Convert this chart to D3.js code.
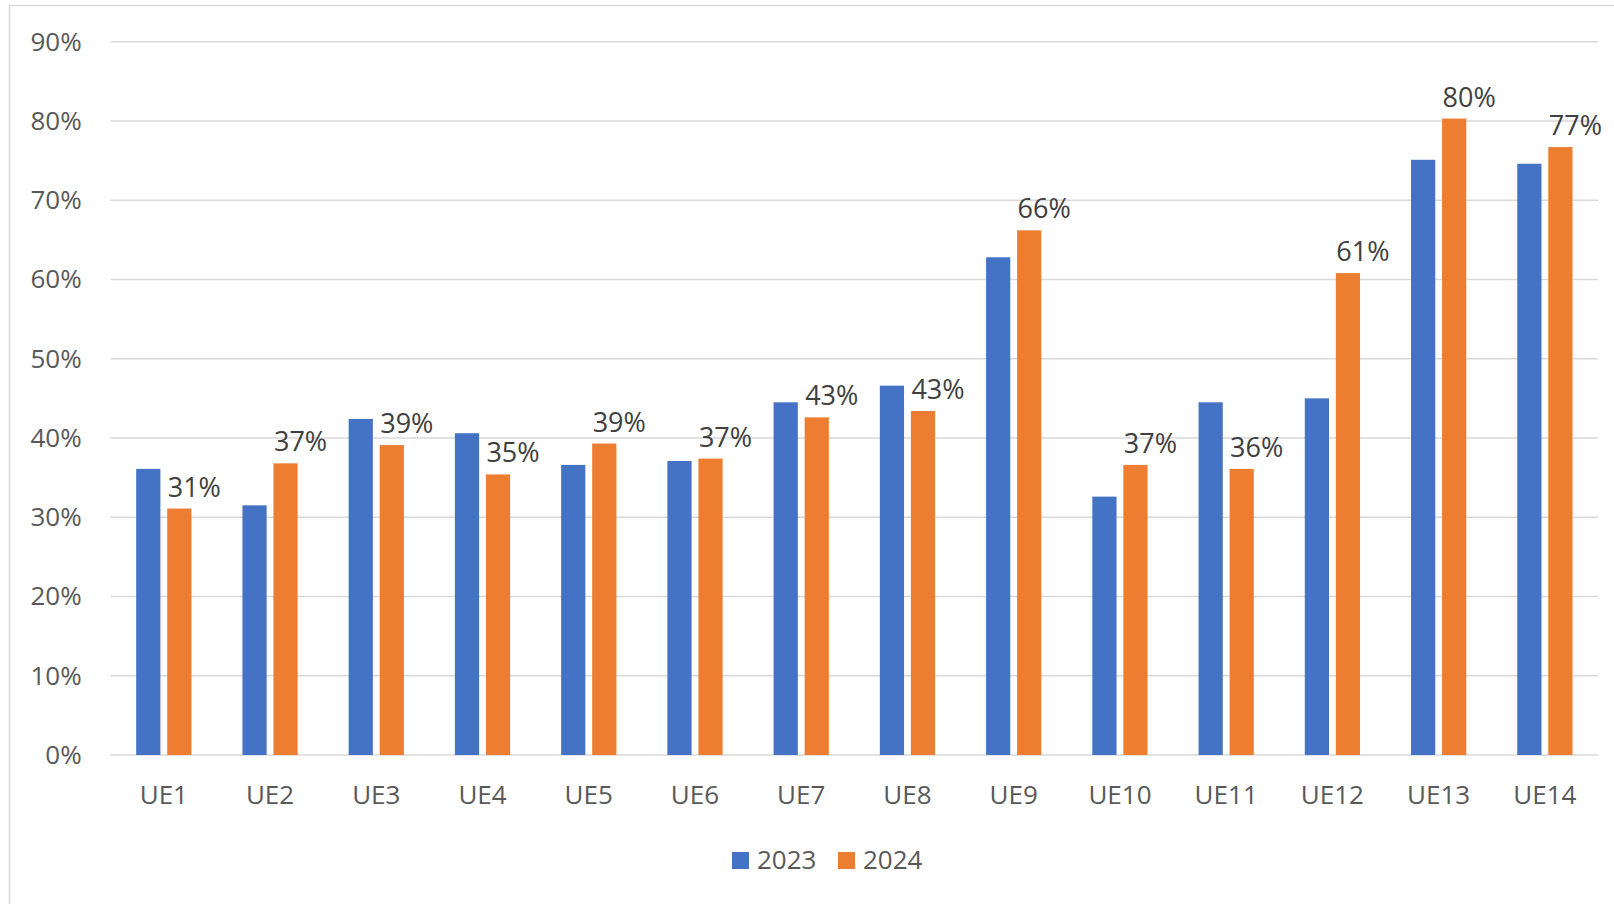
<!DOCTYPE html>
<html>
<head>
<meta charset="utf-8">
<script src="https://cdn.jsdelivr.net/npm/d3@7"></script>
<style>
  html, body { margin: 0; padding: 0; background: #ffffff; }
  svg { display: block; }
</style>
</head>
<body>
<div id="chart"></div>
<script>
// Categories and series values (share, 0..1)
const categories = ['UE1', 'UE2', 'UE3', 'UE4', 'UE5', 'UE6', 'UE7', 'UE8', 'UE9', 'UE10', 'UE11', 'UE12', 'UE13', 'UE14'];
const seriesNames = ['2023', '2024'];
const values2023 = [0.361, 0.315, 0.424, 0.406, 0.366, 0.371, 0.445, 0.466, 0.628, 0.326, 0.445, 0.450, 0.751, 0.746];
const values2024 = [0.311, 0.368, 0.391, 0.354, 0.393, 0.374, 0.426, 0.434, 0.662, 0.366, 0.361, 0.608, 0.803, 0.767];
const yTicks = [0, 0.1, 0.2, 0.3, 0.4, 0.5, 0.6, 0.7, 0.8, 0.9];

const colors = { '2023': '#4472C4', '2024': '#ED7D31' };
const fontFamily = '"Segoe UI", "Open Sans", "Noto Sans", sans-serif';

const width = 1614;
const height = 904;
const margin = { top: 41.7, right: 16, bottom: 149, left: 110.7 };

const svg = d3.select('#chart')
  .append('svg')
  .attr('width', width)
  .attr('height', height)
  .style('font-family', fontFamily);

// Chart area border (only top and left edges fall inside the picture)
svg.append('rect')
  .attr('x', 9.5)
  .attr('y', 5.5)
  .attr('width', width + 20)
  .attr('height', height + 20)
  .attr('fill', 'none')
  .attr('stroke', '#D9D9D9')
  .attr('stroke-width', 1.5);

const x0 = d3.scaleBand()
  .domain(categories)
  .range([margin.left, width - margin.right])
  .paddingInner(0.48)
  .paddingOuter(0.24);

const x1 = d3.scaleBand()
  .domain(seriesNames)
  .range([0, x0.bandwidth()])
  .paddingInner(0.22);

const y = d3.scaleLinear()
  .domain([0, 0.9])
  .range([height - margin.bottom, margin.top]);

// Gridlines
svg.append('g')
  .selectAll('line')
  .data(yTicks)
  .join('line')
  .attr('x1', margin.left)
  .attr('x2', width - margin.right)
  .attr('y1', (d) => y(d))
  .attr('y2', (d) => y(d))
  .attr('stroke', '#D9D9D9')
  .attr('stroke-width', 1.5);

// Y axis labels
const yAxis = svg.append('g')
  .attr('transform', `translate(${margin.left},0)`)
  .call(d3.axisLeft(y).tickValues(yTicks).tickFormat(d3.format('.0%')).tickSize(0).tickPadding(29));
yAxis.select('.domain').remove();
yAxis.selectAll('text')
  .attr('fill', '#595959')
  .style('font-size', '26px')
  .style('font-family', fontFamily);

// X axis labels
const xAxis = svg.append('g')
  .attr('transform', `translate(0,${y(0)})`)
  .call(d3.axisBottom(x0).tickSize(0).tickPadding(31));
xAxis.select('.domain').remove();
xAxis.selectAll('text')
  .attr('fill', '#595959')
  .style('font-size', '26px')
  .style('font-family', fontFamily);

// Bars
const rows = categories.map((c, i) => ({ category: c, '2023': values2023[i], '2024': values2024[i] }));

const groups = svg.append('g')
  .selectAll('g')
  .data(rows)
  .join('g')
  .attr('transform', (d) => `translate(${x0(d.category)},0)`);

groups.selectAll('rect')
  .data((d) => seriesNames.map((s) => ({ series: s, value: d[s] })))
  .join('rect')
  .attr('x', (d) => x1(d.series))
  .attr('y', (d) => y(d.value))
  .attr('width', x1.bandwidth())
  .attr('height', (d) => y(0) - y(d.value))
  .attr('fill', (d) => colors[d.series]);

// Data labels on the 2024 series
groups.append('text')
  .attr('x', x1('2024') + x1.bandwidth() / 2 + 15)
  .attr('y', (d) => y(d['2024']) - 12)
  .attr('text-anchor', 'middle')
  .attr('fill', '#404040')
  .style('font-size', '27px')
  .text((d) => d3.format('.0%')(d['2024']));

// Legend
const legend = svg.append('g')
  .attr('transform', 'translate(732,852)');

const legendItems = legend.selectAll('g')
  .data(seriesNames)
  .join('g')
  .attr('transform', (d, i) => `translate(${i * 106},0)`);

legendItems.append('rect')
  .attr('width', 17)
  .attr('height', 17)
  .attr('fill', (d) => colors[d]);

legendItems.append('text')
  .attr('x', 25)
  .attr('y', 17)
  .attr('fill', '#595959')
  .style('font-size', '26px')
  .text((d) => d);
</script>
</body>
</html>
